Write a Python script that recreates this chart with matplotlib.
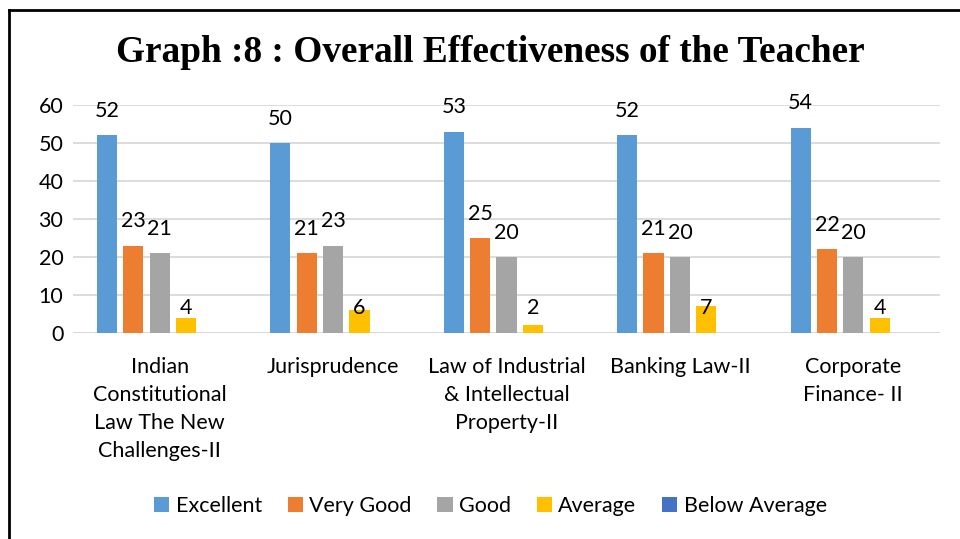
import matplotlib.pyplot as plt
import numpy as np

# data
subjects = ["Indian\nConstitutional\nLaw The New\nChallenges-II",
            "Jurisprudence",
            "Law of Industrial\n& Intellectual\nProperty-II",
            "Banking Law-II",
            "Corporate\nFinance- II"]
excellent = [52, 50, 53, 52, 54]
very_good = [23, 21, 25, 21, 22]
good = [21, 23, 20, 20, 20]
average = [4, 6, 2, 7, 4]
below_average = [0, 0, 0, 0, 0]

series = [("Excellent", excellent, "#5B9BD5"),
          ("Very Good", very_good, "#ED7D31"),
          ("Good", good, "#A5A5A5"),
          ("Average", average, "#FFC000"),
          ("Below Average", below_average, "#4472C4")]

plt.rcParams['font.family'] = ['Lato', 'DejaVu Sans']
fs = 15.5

fig = plt.figure(figsize=(9.6, 5.39), dpi=100)
ax = fig.add_axes([73 / 960, 1 - 333 / 539, 867 / 960, 228 / 539])

x = np.arange(len(subjects))
w = 0.116
step = 0.152
for i, (name, vals, col) in enumerate(series):
    pos = x + (i - 2) * step
    ax.bar(pos, vals, width=w, color=col, label=name, zorder=3)
    if name == "Below Average":
        continue
    for p, v in zip(pos, vals):
        if name == "Average":
            # small labels sit at about the same height in the original
            ax.text(p, 6.6, str(v), ha='center', va='center', fontsize=fs, zorder=4)
        else:
            ax.annotate(str(v), (p, v), xytext=(0, 17.5), textcoords='offset points',
                        ha='center', va='center', fontsize=fs)

ax.set_xlim(-0.5, len(subjects) - 0.5)
ax.set_ylim(0, 60)
ax.set_yticks(range(0, 61, 10))
ax.yaxis.grid(True, color='#D9D9D9', linewidth=1.3, zorder=0)
for s in ax.spines.values():
    s.set_visible(False)
ax.tick_params(axis='both', length=0, labelsize=fs)
ax.tick_params(axis='y', pad=7)
ax.set_xticks(x)
ax.set_xticklabels(subjects, linespacing=1.5)
ax.tick_params(axis='x', pad=17)
ax.axhline(0, color='#D9D9D9', linewidth=1.3, zorder=1)

fig.text(0.511, 1 - 52 / 539, "Graph :8 : Overall Effectiveness of the Teacher",
         ha='center', va='center', fontsize=26.8, fontweight='bold',
         family='Liberation Serif')

fig.legend(loc='center', bbox_to_anchor=(0.511, 1 - 506 / 539), ncol=5,
           frameon=False, fontsize=fs, handlelength=0.7, handleheight=0.7,
           handletextpad=0.3, columnspacing=1.2)

# page border (top and left only, the rest is cut off)
fig.add_artist(plt.Line2D([9 / 960, 1], [1 - 10 / 539, 1 - 10 / 539],
                          color='black', linewidth=2, transform=fig.transFigure))
fig.add_artist(plt.Line2D([9 / 960, 9 / 960], [0, 1 - 10 / 539],
                          color='black', linewidth=2, transform=fig.transFigure))

fig.savefig("out.png", dpi=100)
